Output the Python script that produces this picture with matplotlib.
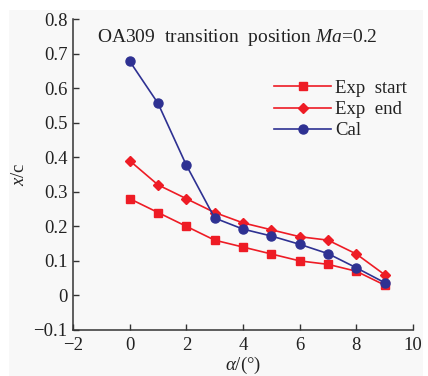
import matplotlib
matplotlib.use("Agg")
import matplotlib.pyplot as plt
from matplotlib.patches import Rectangle

plt.rcParams['font.family'] = ['Liberation Serif', 'DejaVu Serif']
plt.rcParams['mathtext.fontset'] = 'custom'
plt.rcParams['mathtext.rm'] = 'Liberation Serif'
plt.rcParams['mathtext.it'] = 'Liberation Serif:italic'

# data
alpha = [0, 1, 2, 3, 4, 5, 6, 7, 8, 9]
exp_start = [0.28, 0.24, 0.20, 0.16, 0.14, 0.12, 0.10, 0.09, 0.07, 0.03]
exp_end = [0.39, 0.32, 0.28, 0.24, 0.21, 0.19, 0.17, 0.16, 0.12, 0.06]
cal = [0.678, 0.556, 0.377, 0.224, 0.192, 0.172, 0.148, 0.121, 0.080, 0.037]

red = '#ee1c25'
blue = '#2e3192'
bg = '#f8f8f8'
fs = 13.5

fig = plt.figure(figsize=(4.28, 3.76), dpi=100, facecolor='white')
# light grey panel behind the chart
fig.patches.append(Rectangle((9 / 428, 0), 414 / 428, 366 / 376,
                             transform=fig.transFigure, facecolor=bg,
                             edgecolor='none', zorder=-10))
ax = fig.add_axes([73 / 428, 46 / 376, 340 / 428, 311 / 376])
ax.patch.set_alpha(0)

ax.plot(alpha, exp_start, '-', color=red, lw=1.2, marker='s', ms=5.5,
        mfc=red, mec=red, label='Exp  start', clip_on=False)
ax.plot(alpha, exp_end, '-', color=red, lw=1.2, marker='D', ms=4.8,
        mfc=red, mec=red, label='Exp  end', clip_on=False)
ax.plot(alpha, cal, '-', color=blue, lw=1.2, marker='o', ms=6.5,
        mfc=blue, mec=blue, label='Cal', clip_on=False)

ax.set_xlim(-2, 10)
ax.set_ylim(-0.1, 0.8)
ax.set_xticks([-2, 0, 2, 4, 6, 8, 10])
ax.set_yticks([-0.1, 0, 0.1, 0.2, 0.3, 0.4, 0.5, 0.6, 0.7, 0.8])
ax.set_yticklabels(['\u22120.1', '0', '0.1', '0.2', '0.3', '0.4', '0.5',
                    '0.6', '0.7', '0.8'])
ax.set_xticklabels(['\u22122', '0', '2', '4', '6', '8', '10'])

for s in ['top', 'right']:
    ax.spines[s].set_visible(False)
for s in ['left', 'bottom']:
    ax.spines[s].set_color('#333333')
    ax.spines[s].set_linewidth(1.1)
ax.tick_params(direction='in', length=4, width=1, colors='#333333',
               labelsize=fs, labelcolor='#222222')
ax.tick_params(axis='y', pad=4)
ax.tick_params(axis='x', pad=5)

ax.set_xlabel(r'$\mathit{\alpha}$/(°)', fontsize=fs, color='#222222',
              labelpad=1)
ax.set_ylabel(r'$\mathit{x}$/c', fontsize=fs, color='#222222', labelpad=4)

ax.text(0.07, 0.925, r'OA309  transition  position $\mathit{Ma}$=0.2',
        transform=ax.transAxes, fontsize=fs + 0.5, color='#222222')

leg = ax.legend(loc='upper left', bbox_to_anchor=(0.565, 0.835), frameon=False,
                fontsize=fs, handlelength=3.0, handletextpad=0.25,
                labelspacing=0.22, borderpad=0)
for t in leg.get_texts():
    t.set_color('#222222')

fig.savefig('out.png', dpi=100, facecolor='white')
